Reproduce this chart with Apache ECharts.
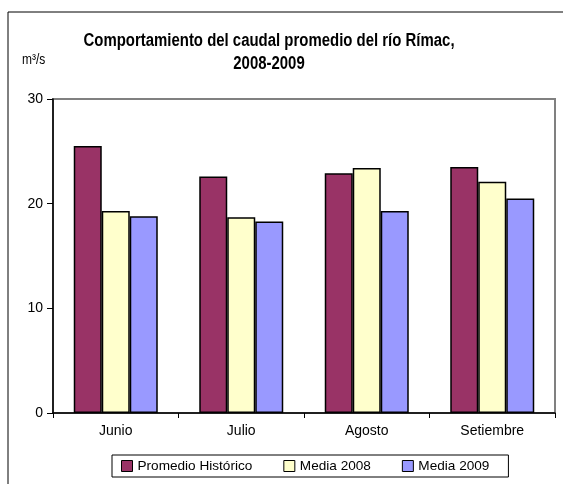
<!DOCTYPE html>
<html>
<head>
<meta charset="utf-8">
<script src="https://cdn.jsdelivr.net/npm/echarts@6/dist/echarts.min.js"></script>
<style>
  html, body { margin: 0; padding: 0; background: #fff; }
  #chart { width: 563px; height: 484px; }
</style>
</head>
<body>
<div id="chart"></div>
<script>
// datos del grafico
const meses = ['Junio', 'Julio', 'Agosto', 'Setiembre']
const promedioHistorico = [25.5, 22.6, 22.9, 23.5]
const media2008 = [19.3, 18.7, 23.4, 22.1]
const media2009 = [18.8, 18.3, 19.3, 20.5]
const seriesNames = ['Promedio Histórico', 'Media 2008', 'Media 2009']
const colores = ['#993366', '#FFFFCC', '#9999FF']

// no hay Arial Narrow: Liberation Sans y se estrecha el titulo con scaleX
const FONT = "'Liberation Sans', Arial, sans-serif"

const chart = echarts.init(document.getElementById('chart'))

function barSerie (name, data, color) {
  return {
    name: name,
    type: 'bar',
    data: data,
    barWidth: 28,
    barGap: '0%',
    itemStyle: {
      color: color,
      borderColor: '#000',
      borderWidth: 1.5
    }
  }
}

const option = {
  backgroundColor: '#fff',
  animation: false,
  graphic: [
    {
      type: 'rect',
      shape: { x: 8, y: 12, width: 600, height: 520 },
      style: { fill: 'none', stroke: '#000', lineWidth: 1 },
      silent: true
    },
    {
      type: 'text',
      x: 269,
      y: 30,
      scaleX: 0.83,
      style: {
        x: 0,
        y: 0,
        text: 'Comportamiento del caudal promedio del río Rímac,\n2008-2009',
        textAlign: 'center',
        font: 'bold 18px ' + FONT,
        lineHeight: 23,
        fill: '#000'
      }
    },
    {
      type: 'text',
      x: 22,
      y: 52,
      scaleX: 0.8,
      style: {
        x: 0,
        y: 0,
        text: 'm³/s',
        font: '15px ' + FONT,
        fill: '#000'
      }
    }
  ],
  legend: {
    left: 112,
    top: 455,
    padding: [4, 19, 4, 9],
    itemGap: 31,
    itemWidth: 11,
    itemHeight: 11,
    icon: 'rect',
    borderColor: '#000',
    borderWidth: 1,
    itemStyle: { borderColor: '#000', borderWidth: 1 },
    textStyle: { color: '#000', fontSize: 13.6, fontFamily: FONT },
    data: seriesNames
  },
  grid: {
    left: 53,
    right: 8,
    top: 99,
    bottom: 71,
    show: true,
    borderColor: '#808080',
    borderWidth: 2,
    containLabel: false
  },
  xAxis: {
    type: 'category',
    data: meses,
    axisLine: { show: true, lineStyle: { color: '#000', width: 1.5 } },
    axisTick: { show: true, length: 5, lineStyle: { color: '#000' } },
    axisLabel: { color: '#000', fontSize: 14, fontFamily: FONT, margin: 11 },
    splitLine: { show: false }
  },
  yAxis: {
    type: 'value',
    min: 0,
    max: 30,
    interval: 10,
    axisLine: { show: true, lineStyle: { color: '#000', width: 1.5 } },
    axisTick: { show: true, length: 6, lineStyle: { color: '#000' } },
    axisLabel: { color: '#000', fontSize: 14, fontFamily: FONT, margin: 10 },
    splitLine: { show: false }
  },
  series: [
    barSerie(seriesNames[0], promedioHistorico, colores[0]),
    barSerie(seriesNames[1], media2008, colores[1]),
    barSerie(seriesNames[2], media2009, colores[2])
  ]
}

chart.setOption(option)
</script>
</body>
</html>
